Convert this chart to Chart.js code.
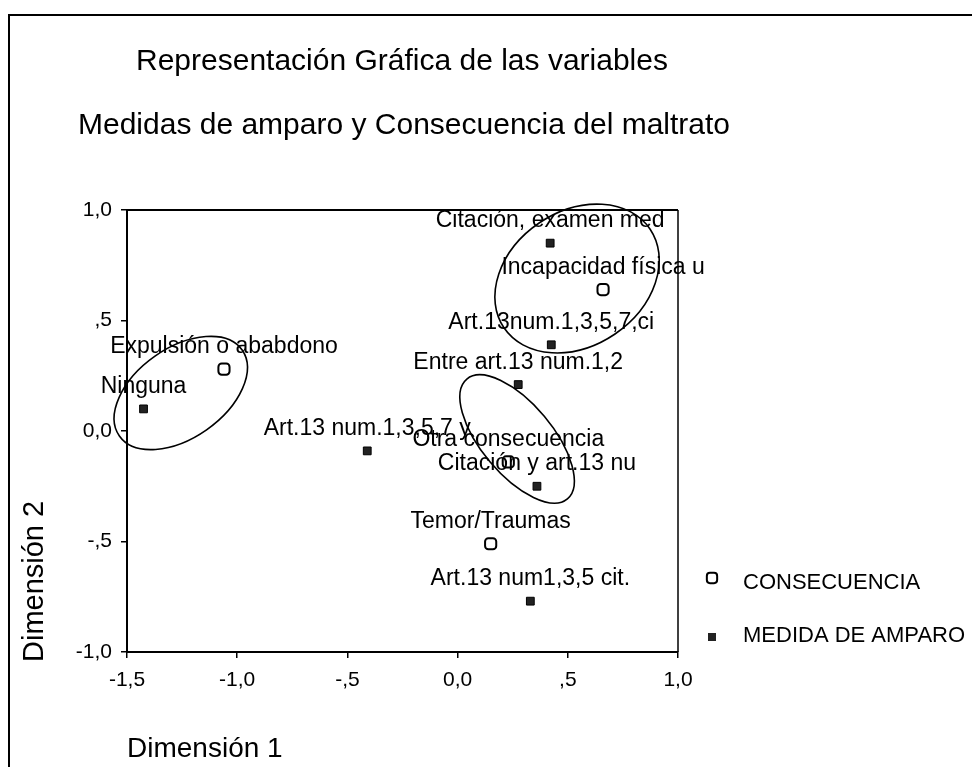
<!DOCTYPE html>
<html>
<head>
<meta charset="utf-8">
<title>Medidas de amparo y Consecuencia del maltrato</title>
<script src="https://cdn.jsdelivr.net/npm/chart.js@4.4.0/dist/chart.umd.min.js"></script>
<style>
  html, body { margin: 0; padding: 0; background: #fff; }
  #wrap { width: 972px; height: 767px; position: relative; }
</style>
</head>
<body>
<div id="wrap"><canvas id="grafica"></canvas></div>
<script>
// ── Datos ─────────────────────────────────────────────────
const consecuencias = ['Expulsión o ababdono', 'Incapacidad física u', 'Otra consecuencia', 'Temor/Traumas'];
const consecX = [-1.06, 0.66, 0.23, 0.15];
const consecY = [0.28, 0.64, -0.14, -0.51];

const medidas = ['Ninguna', 'Art.13 num.1,3,5,7 y', 'Citación, examen med', 'Art.13num.1,3,5,7,ci',
                 'Entre art.13 num.1,2', 'Citación y art.13 nu', 'Art.13 num1,3,5 cit.'];
const medidaX = [-1.425, -0.41, 0.42, 0.425, 0.275, 0.36, 0.33];
const medidaY = [0.10, -0.09, 0.85, 0.39, 0.21, -0.25, -0.77];

const xTicks = ['-1,5', '-1,0', '-,5', '0,0', ',5', '1,0'];
const yTicks = ['-1,0', '-,5', '0,0', ',5', '1,0'];

// elipses de agrupación (centro y semiejes en unidades de las dimensiones, giro en grados)
const elipseX = [-1.256, 0.542, 0.270];
const elipseY = [0.172, 0.690, -0.036];
const elipseA = [0.34, 0.40, 0.355];
const elipseB = [0.204, 0.305, 0.161];
const elipseGiro = [-35, -34, 50];

const FUENTE = '"Liberation Sans", Arial, sans-serif';

// ── Plugin: marco, títulos, etiquetas, elipses y leyenda ──
const dibujoExtra = {
  id: 'dibujoExtra',
  beforeDraw(chart) {
    const ctx = chart.ctx;
    ctx.save();
    ctx.fillStyle = '#fff';
    ctx.fillRect(0, 0, chart.width, chart.height);
    // marco exterior
    ctx.strokeStyle = '#000';
    ctx.lineWidth = 2;
    ctx.strokeRect(9, 15, 1000, 1000);
    // títulos
    ctx.fillStyle = '#000';
    ctx.textBaseline = 'alphabetic';
    ctx.textAlign = 'left';
    ctx.font = '30px ' + FUENTE;
    ctx.fillText('Representación Gráfica de las variables', 136, 70);
    ctx.fillText('Medidas de amparo y Consecuencia del maltrato', 78, 134);
    // título eje vertical
    ctx.font = '29px ' + FUENTE;
    ctx.translate(43, 662);
    ctx.rotate(-Math.PI / 2);
    ctx.fillText('Dimensión 2', 0, 0);
    ctx.restore();
  },
  afterDatasetsDraw(chart) {
    const ctx = chart.ctx;
    const { left, right, top, bottom } = chart.chartArea;
    const sx = chart.scales.x, sy = chart.scales.y;
    ctx.save();
    // lados superior y derecho del recuadro
    ctx.strokeStyle = '#000';
    ctx.lineWidth = 2;
    ctx.beginPath();
    ctx.moveTo(left, top);
    ctx.lineTo(right, top);
    ctx.stroke();
    ctx.lineWidth = 1.5;
    ctx.beginPath();
    ctx.moveTo(right, top);
    ctx.lineTo(right, bottom);
    ctx.stroke();

    // etiquetas de los puntos
    ctx.fillStyle = '#000';
    ctx.font = '23px ' + FUENTE;
    ctx.textAlign = 'center';
    ctx.textBaseline = 'alphabetic';
    const nombres = [consecuencias, medidas];
    chart.data.datasets.forEach((ds, d) => {
      chart.getDatasetMeta(d).data.forEach((pt, i) => {
        ctx.fillText(nombres[d][i], pt.x, pt.y - 16);
      });
    });

    // elipses
    ctx.lineWidth = 1.6;
    elipseX.forEach((cx, i) => {
      const px = sx.getPixelForValue(cx);
      const py = sy.getPixelForValue(elipseY[i]);
      const ra = Math.abs(sx.getPixelForValue(cx + elipseA[i]) - px);
      const rb = Math.abs(sx.getPixelForValue(cx + elipseB[i]) - px);
      ctx.beginPath();
      ctx.ellipse(px, py, ra, rb, elipseGiro[i] * Math.PI / 180, 0, Math.PI * 2);
      ctx.stroke();
    });

    // leyenda
    ctx.fillStyle = '#fff';
    ctx.strokeStyle = '#000';
    ctx.lineWidth = 2;
    Chart.helpers.drawPoint(ctx, { pointStyle: 'rectRounded', radius: 6, borderWidth: 2 }, 712, 578);
    ctx.fillStyle = '#222';
    ctx.fillRect(708, 633, 8, 8);
    ctx.fillStyle = '#000';
    ctx.textAlign = 'left';
    ctx.textBaseline = 'middle';
    ctx.font = '22px ' + FUENTE;
    ctx.fillText('CONSECUENCIA', 743, 583);
    ctx.fillText('MEDIDA DE AMPARO', 743, 636);
    ctx.restore();
  }
};

function crearGrafica() {
  const canvas = document.getElementById('grafica');
  new Chart(canvas, {
    type: 'scatter',
    data: {
      datasets: [{
        label: 'CONSECUENCIA',
        data: consecX.map((x, i) => ({ x, y: consecY[i] })),
        pointStyle: 'rectRounded',
        pointRadius: 6.5,
        pointHoverRadius: 6.5,
        pointBorderWidth: 2,
        pointBackgroundColor: '#fff',
        pointBorderColor: '#000'
      }, {
        label: 'MEDIDA DE AMPARO',
        data: medidaX.map((x, i) => ({ x, y: medidaY[i] })),
        pointStyle: 'rect',
        pointRadius: 5.5,
        pointHoverRadius: 5.5,
        pointBorderWidth: 1,
        pointBackgroundColor: '#222',
        pointBorderColor: '#000'
      }]
    },
    options: {
      responsive: false,
      animation: false,
      layout: { padding: { left: 0, top: 210, right: 294, bottom: 0 } },
      plugins: {
        legend: { display: false },
        tooltip: { enabled: false }
      },
      scales: {
        x: {
          type: 'linear',
          min: -1.5, max: 1.0,
          afterFit(s) { s.height = 115; },
          border: { display: true, color: '#000', width: 2 },
          grid: { drawOnChartArea: false, color: '#000', lineWidth: 1.5, tickLength: 6 },
          ticks: {
            stepSize: 0.5,
            color: '#000',
            padding: 10,
            font: { family: FUENTE, size: 21 },
            maxRotation: 0,
            callback: (v, i) => xTicks[i]
          },
          title: {
            display: true,
            text: 'Dimensión 1',
            align: 'start',
            color: '#000',
            font: { family: FUENTE, size: 28 },
            padding: { top: 0, bottom: 1 }
          }
        },
        y: {
          type: 'linear',
          min: -1.0, max: 1.0,
          afterFit(s) { s.width = 127; },
          border: { display: true, color: '#000', width: 2 },
          grid: { drawOnChartArea: false, color: '#000', lineWidth: 1.5, tickLength: 6 },
          ticks: {
            stepSize: 0.5,
            color: '#000',
            padding: 9,
            font: { family: FUENTE, size: 21 },
            callback: (v, i) => yTicks[i]
          }
        }
      }
    },
    plugins: [dibujoExtra]
  });
}

const c = document.getElementById('grafica');
c.width = 972;
c.height = 767;
crearGrafica();
</script>
</body>
</html>
